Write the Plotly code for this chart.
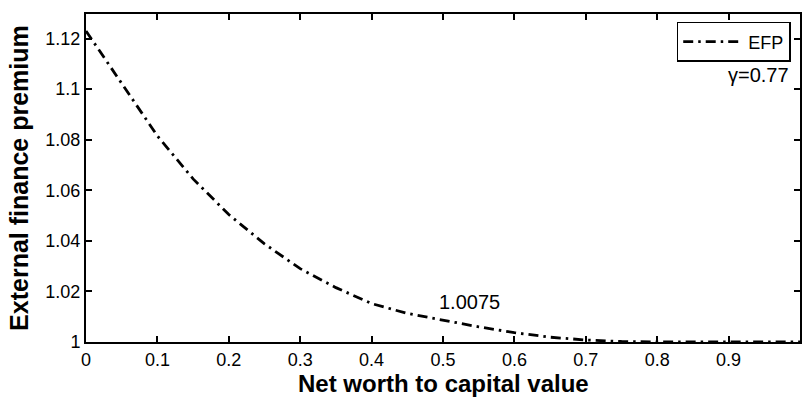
import plotly.graph_objects as go

# Data
net_worth = [0.0, 0.05, 0.10, 0.15, 0.20, 0.25, 0.30, 0.35, 0.40, 0.45, 0.50,
             0.55, 0.60, 0.65, 0.70, 0.75, 0.80, 0.85, 0.90, 0.95, 1.0]
efp = [1.1230, 1.1024, 1.0815, 1.0645, 1.0504, 1.0388, 1.0290, 1.0215, 1.0152,
       1.0113, 1.0086, 1.0060, 1.0037, 1.0019, 1.0008, 1.0002, 1.0000, 1.0000,
       1.0000, 1.0000, 1.0000]

x_ticks = [0, 0.1, 0.2, 0.3, 0.4, 0.5, 0.6, 0.7, 0.8, 0.9, 1.0]
x_ticktext = ["0", "0.1", "0.2", "0.3", "0.4", "0.5", "0.6", "0.7", "0.8", "0.9", "1"]
y_ticks = [1.0, 1.02, 1.04, 1.06, 1.08, 1.10, 1.12]
y_ticktext = ["1", "1.02", "1.04", "1.06", "1.08", "1.1", "1.12"]

FONT = "Liberation Sans, Arial, sans-serif"

fig = go.Figure()
fig.add_trace(go.Scatter(
    x=net_worth, y=efp, mode="lines", name="EFP",
    line=dict(color="black", width=2.8, dash="10px,5px,2.5px,5px"),
))

fig.add_annotation(x=0.537, y=1.0159, xref="x", yref="y", text="1.0075",
                   showarrow=False, font=dict(family=FONT, size=20, color="black"))
fig.add_annotation(x=0.987, y=1.1056, xref="x", yref="y", text="γ=0.77",
                   xanchor="right", showarrow=False,
                   font=dict(family=FONT, size=20, color="black"))

# axis titles
fig.add_annotation(x=0.5, y=-0.125, xref="paper", yref="paper",
                   text="<b>Net worth to capital value</b>", showarrow=False,
                   xanchor="center", yanchor="middle",
                   font=dict(family=FONT, size=24, color="black"))
fig.add_annotation(x=-0.094, y=0.5, xref="paper", yref="paper",
                   text="<b>External finance premium</b>", showarrow=False,
                   textangle=-90, xanchor="center", yanchor="middle",
                   font=dict(family=FONT, size=25, color="black"))

axis_common = dict(
    showline=True, linecolor="black", linewidth=2, mirror="ticks",
    ticks="inside", ticklen=6, tickwidth=1.8, tickcolor="black",
    showgrid=False, zeroline=False,
    tickfont=dict(family=FONT, size=18, color="black"),
)

fig.update_layout(
    width=803, height=403,
    margin=dict(l=86, r=1, t=14, b=61),
    plot_bgcolor="white", paper_bgcolor="white",
    xaxis=dict(range=[0, 1], tickvals=x_ticks, ticktext=x_ticktext,
               **axis_common),
    yaxis=dict(range=[1.0, 1.1297], tickvals=y_ticks, ticktext=y_ticktext,
               **axis_common),
    showlegend=True,
    legend=dict(x=0.987, y=0.976, xanchor="right", yanchor="top",
                bgcolor="white", bordercolor="black", borderwidth=1.5,
                font=dict(family=FONT, size=18, color="black"),
                itemwidth=60, tracegroupgap=0),
)

fig.write_html("out.html",
               config={"displayModeBar": False},
               post_script="document.body.style.margin='0';document.body.style.padding='0';")
